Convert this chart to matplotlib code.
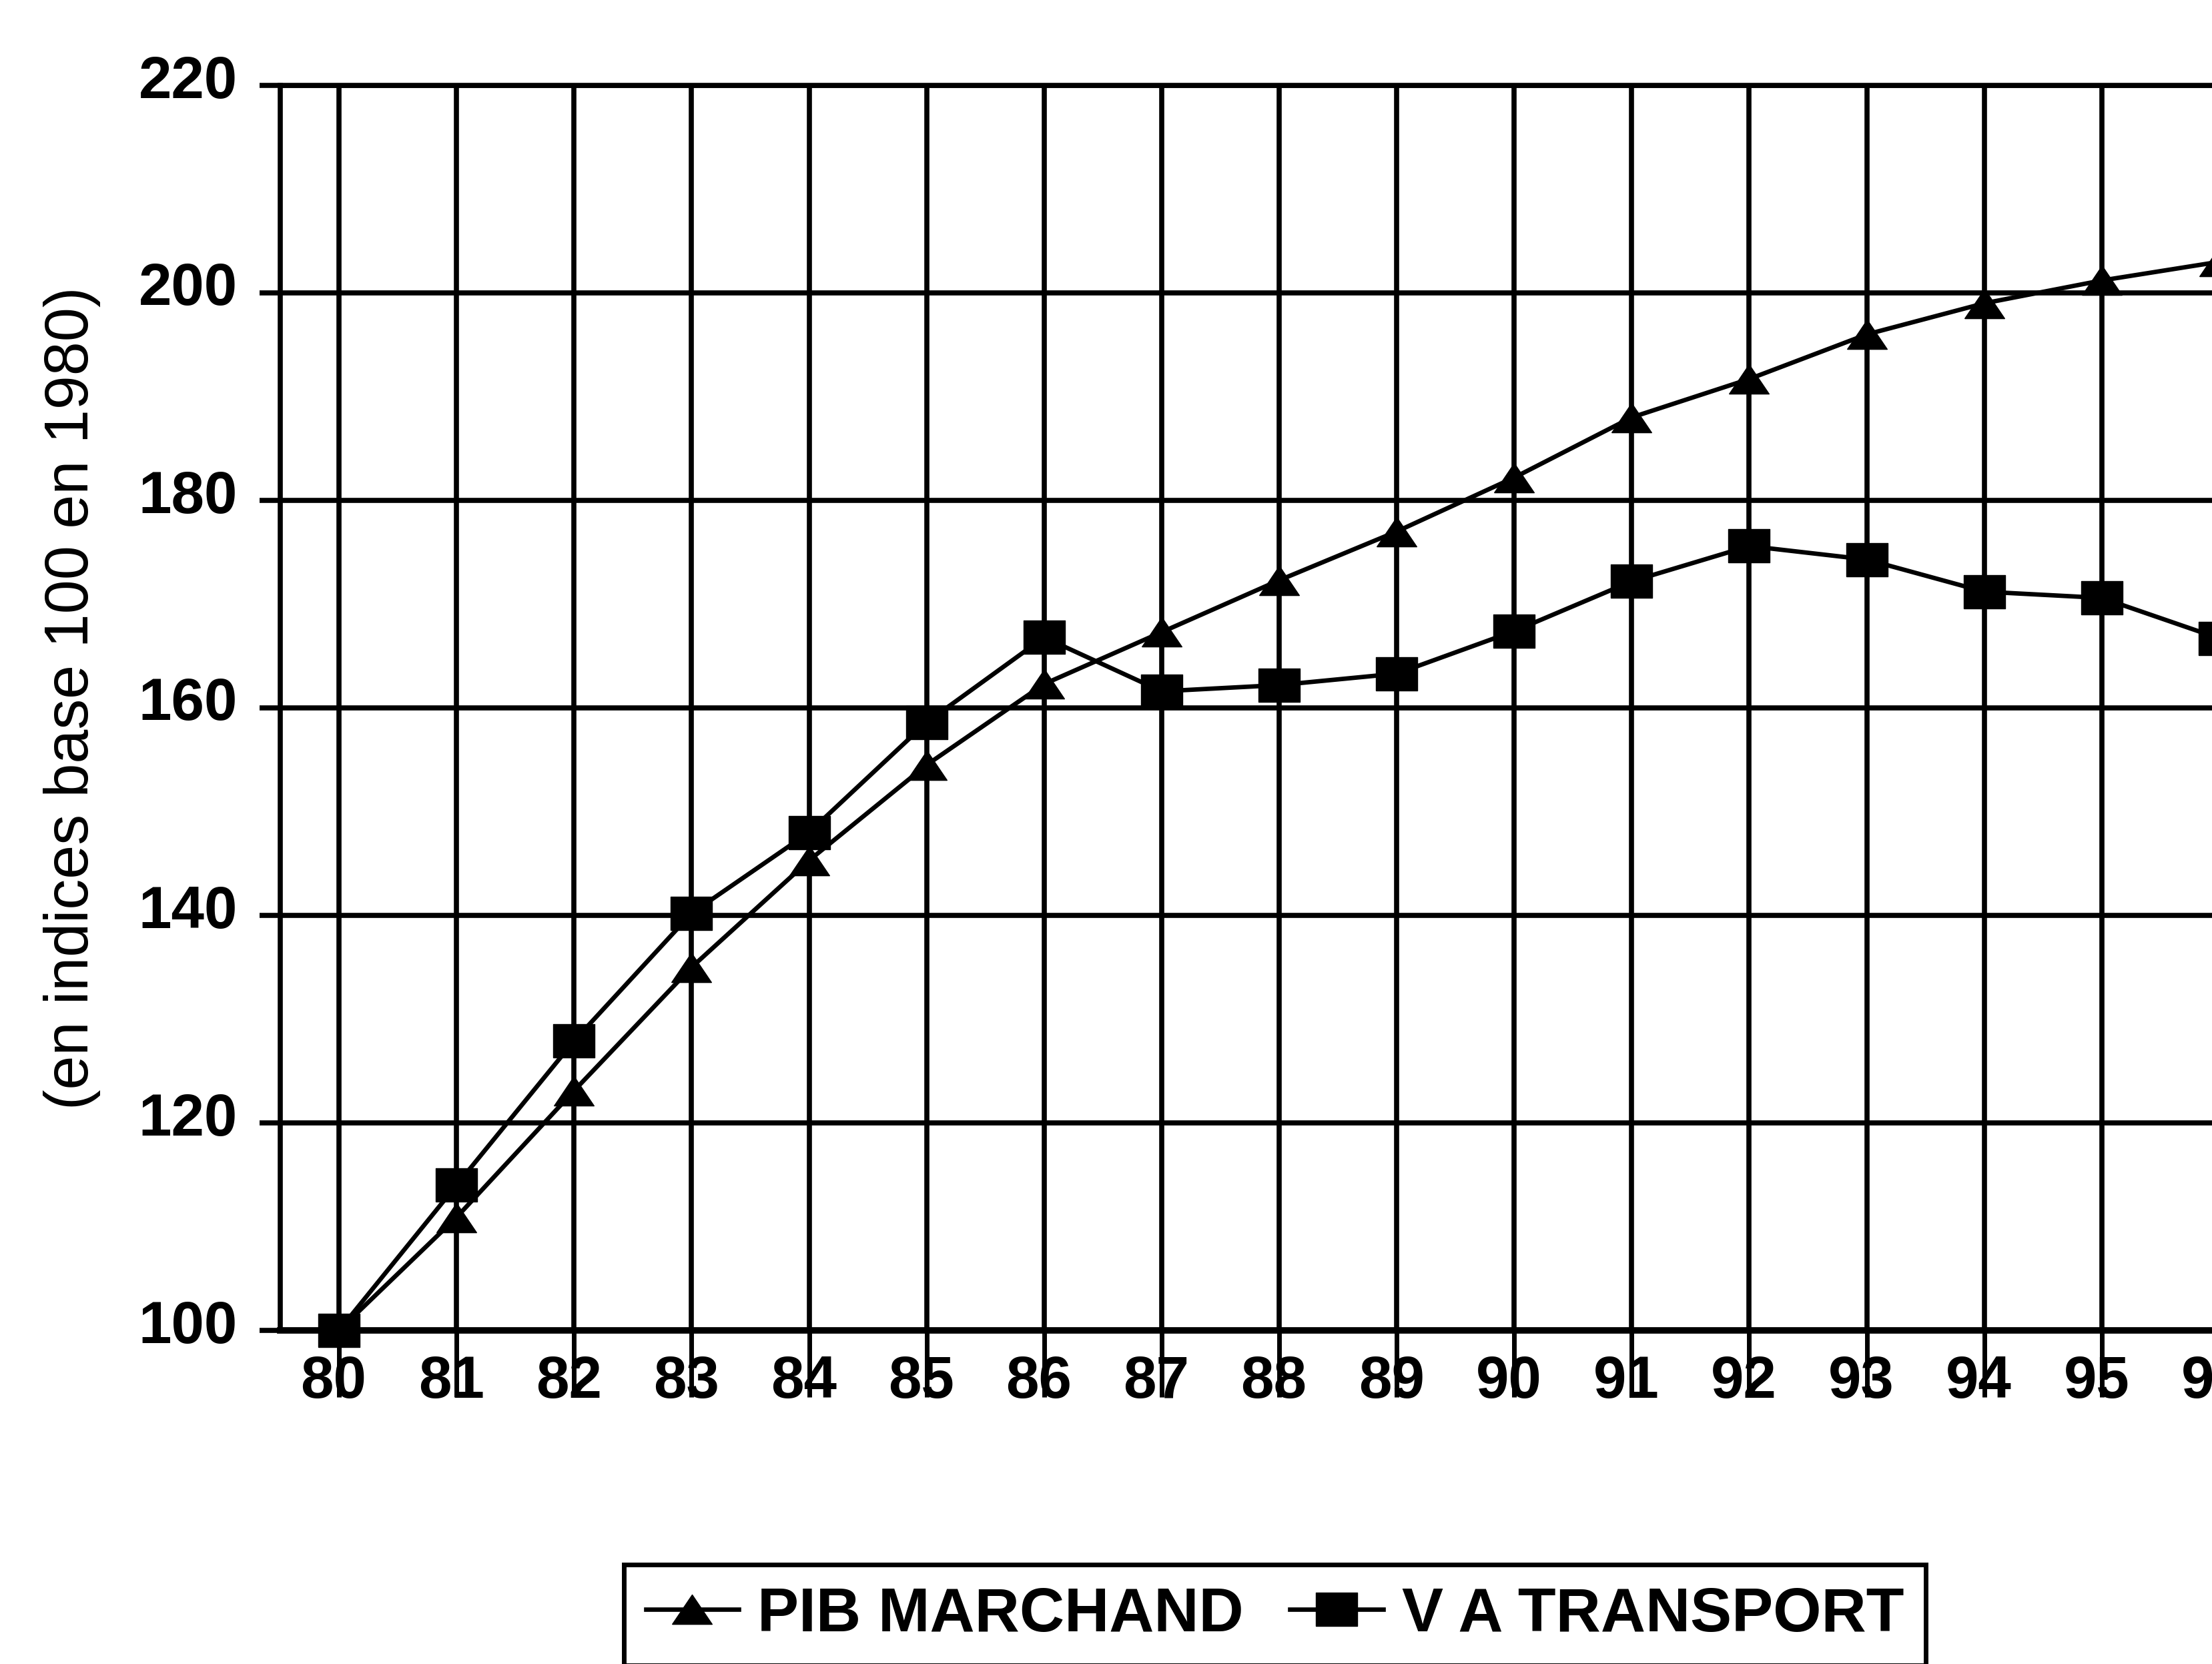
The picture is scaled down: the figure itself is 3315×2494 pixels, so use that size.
import matplotlib
matplotlib.use("Agg")
import matplotlib.pyplot as plt
from matplotlib.transforms import ScaledTranslation

plt.rcParams['font.family'] = ['Liberation Sans', 'DejaVu Sans']

# ---- data ----
years = [80, 81, 82, 83, 84, 85, 86, 87, 88, 89, 90, 91, 92, 93, 94, 95, 96]
year_labels = ['80', '81', '82', '83', '84', '85', '86', '87', '88', '89',
               '90', '91', '92', '93', '94', '95', '96']
pib_marchand = [100, 110.9, 123.1, 135.0, 145.3, 154.5, 162.3, 167.3, 172.3,
                177.0, 182.2, 188.0, 191.7, 196.0, 199.0, 201.2, 203.0]
va_transport = [100, 114.0, 127.9, 140.2, 148.0, 158.6, 166.8, 161.6, 162.2,
                163.3, 167.4, 172.2, 175.6, 174.3, 171.2, 170.6, 166.7]
y_ticks = [100, 120, 140, 160, 180, 200, 220]
series_labels = ['PIB MARCHAND', 'V A TRANSPORT']
y_label = '(en indices base 100 en 1980)'

W, H, DPI = 3315, 2494, 100
fig = plt.figure(figsize=(W / DPI, H / DPI), dpi=DPI)
fig.patch.set_facecolor('white')

ax = fig.add_axes([420 / W, (H - 1994) / H, (3414 - 420) / W, 1866 / H])
ax.set_xlim(79.5, 96.5)
ax.set_ylim(100, 220)
ax.set_xticks(years)
ax.set_xticklabels(year_labels)
ax.set_yticks(y_ticks)
ax.grid(True, color='black', linewidth=5.5)
ax.set_axisbelow(True)

for s in ax.spines.values():
    s.set_linewidth(5.5)
    s.set_color('black')
ax.spines['bottom'].set_linewidth(7.0)

tri = [(-1, -0.74), (1, -0.74), (0, 0.74), (-1, -0.74)]
rect = [(-1, -0.8), (1, -0.8), (1, 0.8), (-1, 0.8), (-1, -0.8)]

ax.plot(years, pib_marchand, color='black', lw=4.8, marker=tri, ms=43,
        mfc='black', mec='black', mew=1, label=series_labels[0],
        clip_on=False, zorder=4)
ax.plot(years, va_transport, color='black', lw=4.8, marker=rect, ms=45,
        mfc='black', mec='black', mew=1, label=series_labels[1],
        clip_on=False, zorder=5)

ax.tick_params(axis='x', direction='out', length=72, width=5.0, pad=-46,
               labelsize=64, colors='black')
ax.tick_params(axis='y', direction='out', length=22, width=5.5, pad=24,
               labelsize=64, colors='black')
for lab in ax.get_xticklabels() + ax.get_yticklabels():
    lab.set_fontweight('bold')

off_y = ScaledTranslation(0, 14 / DPI, fig.dpi_scale_trans)
for lab in ax.get_yticklabels():
    lab.set_transform(lab.get_transform() + off_y)
off_x = ScaledTranslation(-8 / DPI, 0, fig.dpi_scale_trans)
for lab in ax.get_xticklabels():
    lab.set_transform(lab.get_transform() + off_x)

fig.text(108 / W, 1 - 1046 / H, y_label, rotation=90, ha='center',
         va='center', fontsize=66, color='black')

leg = ax.legend(loc='upper left', bbox_to_anchor=(935 / W, 1 - 2345 / H),
                bbox_transform=fig.transFigure, ncol=2, frameon=True,
                fancybox=False, edgecolor='black', framealpha=1,
                borderpad=0.35, handlelength=1.5, handletextpad=0.3,
                columnspacing=0.75, borderaxespad=0,
                prop={'size': 67, 'weight': 'bold'})
leg.get_frame().set_linewidth(5.0)

fig.savefig('out.png', dpi=DPI, facecolor='white')
